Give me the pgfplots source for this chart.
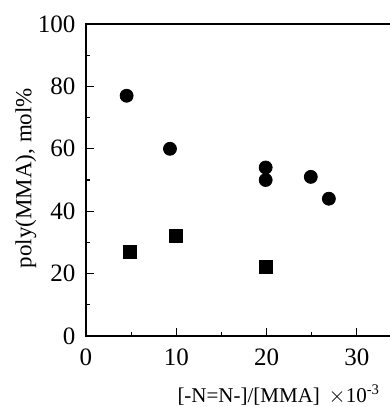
\documentclass[border=0pt]{standalone}
\usepackage{pgfplots}
\pgfplotsset{compat=1.18}
\usepackage{fontspec}
\setmainfont{Liberation Serif}
\begin{document}
\fontsize{11}{13}\selectfont
\begin{tikzpicture}
\clip (0,0) rectangle (195pt,203.5pt);
\begin{axis}[
  at={(43pt,35.5pt)}, anchor=south west,
  scale only axis,
  width=158pt, height=156pt,
  xmin=0, xmax=35, ymin=0, ymax=100,
  xtick={0,10,20,30}, minor xtick={5,15,25},
  ytick={0,20,40,60,80,100}, minor ytick={10,30,50,70,90},
  xtick pos=bottom, ytick pos=left,
  tick align=inside,
  major tick length=4pt, minor tick length=2.2pt,
  axis line style={line width=0.8pt},
  every tick/.style={black, line width=0.6pt},
  /pgf/number format/assume math mode=true,
  ticklabel style={font=\fontsize{12.5}{14}\selectfont},
  xticklabel style={yshift=-2.5pt},
  yticklabel style={xshift=-1.5pt},
  xlabel={[-N=N-]/[MMA]\ \,$\times$10\textsuperscript{-3}},
  every axis x label/.style={at={(rel axis cs:0.61,0)}, anchor=center, yshift=-29.5pt, font=\fontsize{10.5}{12}\selectfont},
  ylabel={poly(MMA), mol\%},
  every axis y label/.style={at={(rel axis cs:-0.19,0.506)}, anchor=center, rotate=90, font=\fontsize{11.5}{13}\selectfont},
  clip=false,
]
\addplot[only marks, mark=*, mark size=3.25pt, black] coordinates {
  (4.5,77) (9.3,60) (19.9,54) (19.9,50) (24.9,51) (26.9,44)
};
\addplot[only marks, mark=square*, mark size=3.25pt, black] coordinates {
  (4.9,27) (10.0,32) (19.9,22)
};
\end{axis}
\end{tikzpicture}
\end{document}
